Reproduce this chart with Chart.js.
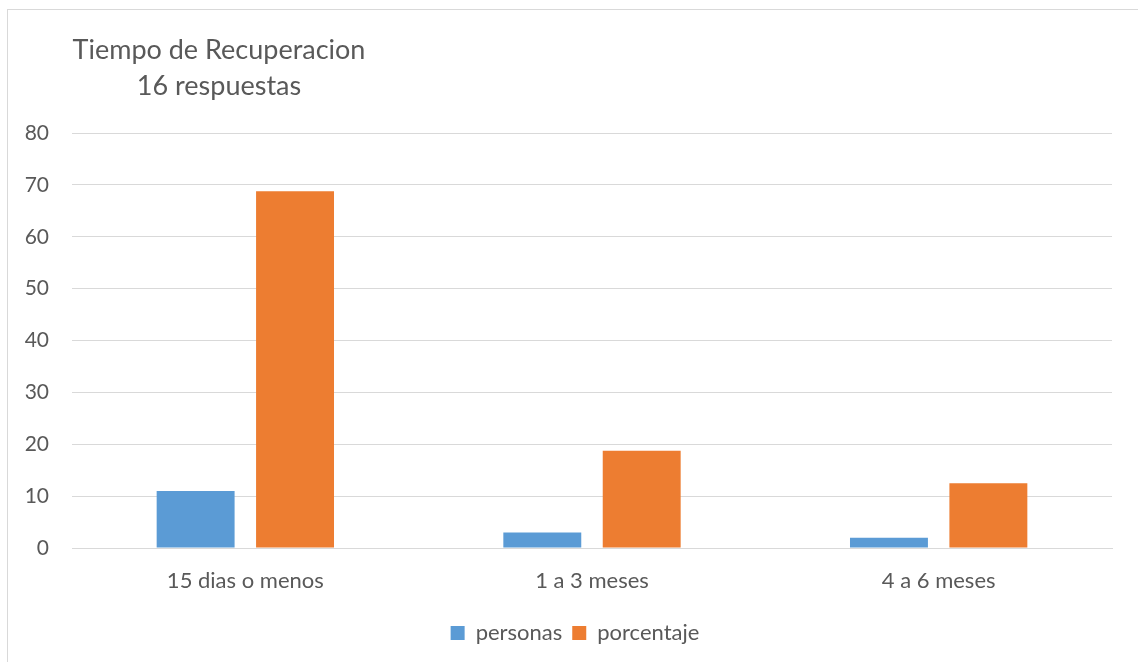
<!DOCTYPE html>
<html>
<head>
<meta charset="utf-8">
<script src="https://cdn.jsdelivr.net/npm/chart.js@4"></script>
<style>
  html, body { margin: 0; padding: 0; background: #fff; }
  #wrap { position: relative; width: 1138px; height: 662px; overflow: hidden; }
  #frame { position: absolute; left: 7px; top: 9px; width: 1200px; height: 700px;
           border-left: 1px solid #d9d9d9; border-top: 1px solid #d9d9d9; box-sizing: border-box; }
  canvas { position: absolute; left: 0; top: 0; }
</style>
</head>
<body>
<div id="wrap">
  <div id="frame"></div>
  <canvas id="c" width="1138" height="662"></canvas>
</div>
<script>
const categories = ['15 dias o menos', '1 a 3 meses', '4 a 6 meses'];
const personas = [11, 3, 2];
const porcentaje = [68.75, 18.75, 12.5];
const titleLines = ['Tiempo de Recuperacion', '16 respuestas'];
const yTicks = [0, 10, 20, 30, 40, 50, 60, 70, 80];

const FONT = 'Lato, "Open Sans", sans-serif';
const TEXT = '#595959';

// two centred title lines above the plot, left of centre
const titlePlugin = {
  id: 'twoLineTitle',
  afterDraw(chart) {
    const ctx = chart.ctx;
    ctx.save();
    ctx.fillStyle = TEXT;
    ctx.font = '27px ' + FONT;
    ctx.textAlign = 'center';
    ctx.textBaseline = 'middle';
    ctx.fillText(titleLines[0], 219, 50);
    ctx.fillText(titleLines[1], 219, 86);
    ctx.restore();
  }
};

// nudge the legend so it sits centred under the whole frame
const legendShift = {
  id: 'legendShift',
  afterLayout(chart) {
    if (chart.legend) { chart.legend.left += 19; chart.legend.right += 19; chart.legend.top += 2; chart.legend.bottom += 2; }
  }
};

new Chart(document.getElementById('c'), {
  type: 'bar',
  data: {
    labels: categories,
    datasets: [
      { label: 'personas', data: personas, backgroundColor: '#5b9bd5' },
      { label: 'porcentaje', data: porcentaje, backgroundColor: '#ed7d31' }
    ]
  },
  options: {
    responsive: false,
    animation: false,
    devicePixelRatio: 1,
    layout: { padding: { top: 133, right: 26, bottom: 10, left: 0 } },
    datasets: { bar: { categoryPercentage: 0.5735, barPercentage: 0.784 } },
    plugins: {
      title: { display: false },
      tooltip: { enabled: false },
      legend: {
        position: 'bottom',
        labels: {
          color: TEXT,
          font: { family: FONT, size: 22 },
          boxWidth: 14, boxHeight: 14, padding: 10
        }
      }
    },
    scales: {
      x: {
        grid: { display: false },
        border: { color: '#d9d9d9' },
        ticks: { color: TEXT, font: { family: FONT, size: 22 }, padding: 12 },
        afterFit(s) { s.height = 62; }
      },
      y: {
        min: 0, max: 80,
        afterBuildTicks(s) { s.ticks = yTicks.map(v => ({ value: v })); },
        grid: { color: '#d9d9d9', drawTicks: false },
        border: { display: false },
        ticks: { color: TEXT, font: { family: FONT, size: 21 }, padding: 23 },
        afterFit(s) { s.width = 72; }
      }
    }
  },
  plugins: [titlePlugin, legendShift]
});
</script>
</body>
</html>
